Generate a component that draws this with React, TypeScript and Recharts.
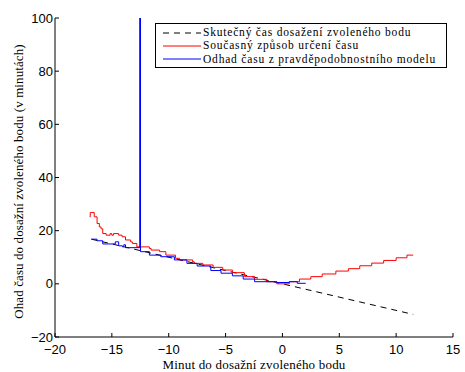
import React from 'react';
import { Legend, Line, LineChart, XAxis, YAxis } from 'recharts';

// true time to the chosen point (straight line)
const TRUE_X = [-16.8, 11.5];
const TRUE_Y = [16.8, -11.5];

// current method (step changes)
const CURRENT_X = [
  -16.95, -16.9, -16.55, -16.3, -16.1, -15.95, -15.8, -15.5, -15.15, -15.0, -14.85, -14.4, -14.1, -13.8,
  -13.35, -13.2, -12.8, -11.7, -11.55, -10.8, -10.25, -9.4, -9.05, -7.9, -7.75, -7.0, -6.1, -5.25, -4.4,
  -3.35, -2.45, -1.4, -0.5, 0.6, 1.5, 2.5, 3.5, 4.7, 5.8, 6.8, 7.85, 8.9, 10.0, 10.95, 11.5,
];
const CURRENT_Y = [
  25.2, 26.8, 25.2, 22.7, 21.4, 20.7, 18.9, 18.3, 18.9, 18.3, 18.9, 18.3, 17.7, 16.5,
  15.8, 15.2, 13.9, 13.3, 12.7, 12.1, 10.8, 9.6, 9.0, 8.3, 7.7, 7.1, 6.2, 5.2, 4.2,
  2.7, 1.7, 0.8, 0, 0.8, 1.8, 2.7, 3.7, 4.8, 5.7, 6.8, 7.8, 8.8, 9.8, 10.8, 10.8,
];

// probabilistic model estimate (with the one outlier spike)
const MODEL_X = [
  -16.8, -16.3, -15.8, -14.7, -14.4, -14.07, -13.95, -13.8, -12.55, -12.48, -11.7, -10.7, -9.5, -8.4,
  -7.5, -6.3, -5.4, -4.4, -3.45, -2.45, -0.5, 0.6, 1.3, 2.05,
];
const MODEL_Y = [
  16.8, 16.2, 15.0, 15.8, 14.3, 13.9, 14.7, 13.6, 120, 12.1, 10.8, 10.2, 9.0, 7.7,
  6.7, 5.0, 4.0, 3.0, 1.8, 0.8, 0.5, 0.8, 0.2, 0.2,
];

const X_TICKS = [-20, -15, -10, -5, 0, 5, 10, 15];
const Y_TICKS = [-20, 0, 20, 40, 60, 80, 100];

const LEGEND_ITEMS = [
  { label: 'Skutečný čas dosažení zvoleného bodu', color: '#000000', dash: '6 5' },
  { label: 'Současný způsob určení času', color: '#ff0000', dash: undefined },
  { label: 'Odhad času z pravděpodobnostního modelu', color: '#0000ff', dash: undefined },
];

const X_TITLE = 'Minut do dosažní zvoleného bodu';
const Y_TITLE = 'Ohad času do dosažní zvoleného bodu (v minutách)';

const zip = (xs: number[], ys: number[]) => xs.map((x, i) => ({ x, y: ys[i] }));

const trueData = zip(TRUE_X, TRUE_Y);
const currentData = zip(CURRENT_X, CURRENT_Y);
const modelData = zip(MODEL_X, MODEL_Y);

const minus = (v: number) => String(v).replace('-', '\u2212');

const SERIF = 'Liberation Serif, Times New Roman, Times, serif';
const SANS = 'Liberation Sans, Arial, sans-serif';

function LegendBox() {
  return (
    <div
      style={{
        border: '1px solid #000',
        background: '#fff',
        boxSizing: 'border-box',
        width: 292,
        height: 45,
        padding: '2px 0 0 6px',
        fontFamily: SERIF,
        fontSize: 11.5,
        letterSpacing: 0.8,
        lineHeight: '13px',
        color: '#000',
        textAlign: 'left',
      }}
    >
      {LEGEND_ITEMS.map((item) => (
        <div key={item.label} style={{ display: 'flex', alignItems: 'center', height: 13.3, whiteSpace: 'nowrap' }}>
          <svg width={40} height={6} style={{ marginRight: 1, flex: 'none' }}>
            <line x1={1} y1={3} x2={39} y2={3} stroke={item.color} strokeWidth={1} strokeDasharray={item.dash} />
          </svg>
          <span>{item.label}</span>
        </div>
      ))}
    </div>
  );
}

function XTitle(props: any) {
  const vb = props.viewBox;
  return (
    <text
      x={vb.x + vb.width / 2}
      y={vb.y + vb.height - 3}
      textAnchor="middle"
      fontFamily={SERIF}
      fontSize={13}
      letterSpacing={0.2}
      fill="#000"
    >
      {X_TITLE}
    </text>
  );
}

function YTitle(props: any) {
  const vb = props.viewBox;
  const cx = vb.x + 18;
  const cy = vb.y + vb.height / 2 + 4;
  return (
    <text
      x={cx}
      y={cy}
      textAnchor="middle"
      dominantBaseline="central"
      transform={`rotate(-90, ${cx}, ${cy})`}
      fontFamily={SERIF}
      fontSize={13}
      letterSpacing={0.1}
      fill="#000"
    >
      {Y_TITLE}
    </text>
  );
}

export default function App() {
  return (
    <div style={{ position: 'absolute', left: 0, top: 0, width: 465, height: 372, background: '#fff' }}>
      <LineChart width={465} height={372} margin={{ top: 18, right: 12, bottom: 0, left: 0 }}>
        <XAxis
          dataKey="x"
          type="number"
          domain={[-20, 15]}
          ticks={X_TICKS}
          interval={0}
          tickFormatter={minus}
          tickSize={-4}
          tickMargin={12}
          height={35}
          stroke="#000"
          tick={{ fill: '#000', fontSize: 13, fontFamily: SANS }}
          label={{ content: XTitle }}
          allowDataOverflow
        />
        <YAxis
          type="number"
          domain={[-20, 100]}
          ticks={Y_TICKS}
          interval={0}
          tickFormatter={minus}
          tickSize={-4}
          tickMargin={6}
          width={55}
          stroke="#000"
          tick={{ fill: '#000', fontSize: 13, fontFamily: SANS }}
          label={{ content: YTitle }}
          allowDataOverflow
        />
        <Legend
          layout="horizontal"
          verticalAlign="middle"
          align="center"
          wrapperStyle={{ left: 155, top: 23, width: 292, height: 45 }}
          content={() => <LegendBox />}
        />
        <Line
          data={trueData}
          dataKey="y"
          type="linear"
          stroke="#000"
          strokeWidth={1}
          strokeDasharray="6 5"
          dot={false}
          activeDot={false}
          isAnimationActive={false}
        />
        <Line
          data={currentData}
          dataKey="y"
          type="stepAfter"
          stroke="#ff0000"
          strokeWidth={1}
          dot={false}
          activeDot={false}
          isAnimationActive={false}
        />
        <Line
          data={modelData}
          dataKey="y"
          type="stepAfter"
          stroke="#0000ff"
          strokeWidth={1}
          dot={false}
          activeDot={false}
          isAnimationActive={false}
        />
      </LineChart>
    </div>
  );
}
